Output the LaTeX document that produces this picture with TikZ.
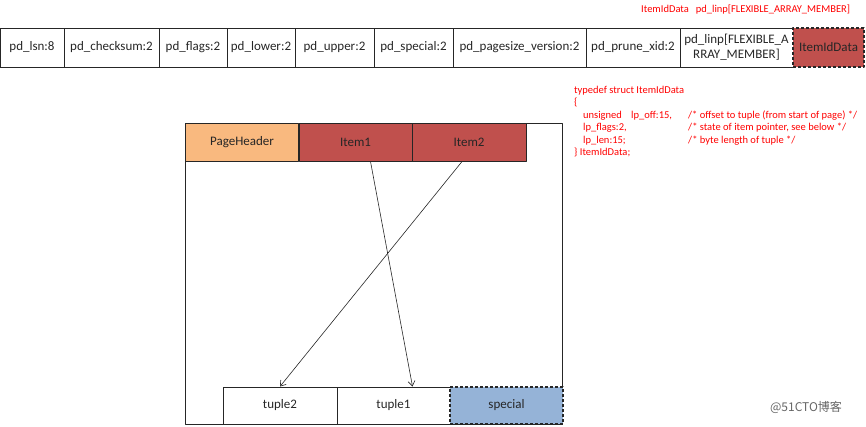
\documentclass[tikz,border=0pt]{standalone}
\usepackage{fontspec}
\setmainfont{Carlito}
\newfontfamily\cjk{Noto Sans CJK SC}
\usepackage{tikz}
\usetikzlibrary{arrows.meta}
\definecolor{itemred}{HTML}{C0504D}
\definecolor{hdrorange}{HTML}{F9B97F}
\definecolor{specblue}{HTML}{95B3D7}
\definecolor{boxline}{HTML}{262626}

\begin{document}
\begin{tikzpicture}[line join=round,>={Straight Barb[length=5pt,width=7pt]},x=1pt,y=-1pt,
    cell/.style={draw=boxline, line width=1pt, minimum height=39pt, inner sep=0pt, align=center, font=\fontsize{13}{15}\selectfont, text=boxline},
    item/.style={cell, fill=itemred},
    dcell/.style={cell, line width=1.2pt, dash pattern=on 3pt off 2pt},
    note/.style={text=red, inner sep=0pt, font=\fontsize{10.5}{12.5}\selectfont},
    ptr/.style={->, line width=0.6pt, boxline}]
    \useasboundingbox (0,0) rectangle (866,426);

    % page header fields
    \node[cell, minimum width=64] (lsn) at (32,47.5) {pd\_lsn:8};
    \node[cell, minimum width=95] (checksum) at (111.5,47.5) {pd\_checksum:2};
    \node[cell, minimum width=68] (flags) at (193,47.5) {pd\_flags:2};
    \node[cell, minimum width=68] (lower) at (261,47.5) {pd\_lower:2};
    \node[cell, minimum width=79] (upper) at (334.5,47.5) {pd\_upper:2};
    \node[cell, minimum width=79] (spec) at (413.5,47.5) {pd\_special:2};
    \node[cell, minimum width=133] (pagesize) at (519.5,47.5) {pd\_pagesize\_version:2};
    \node[cell, minimum width=94] (prune) at (633,47.5) {pd\_prune\_xid:2};
    \node[cell, minimum width=113] (linp) at (736.5,47.5) {pd\_linp[FLEXIBLE\_A\\RRAY\_MEMBER]};
    \node[item, dcell, minimum width=71] (itemid) at (828.5,47.5) {ItemIdData};

    \node[note, anchor=base west] (linplabel) at (641,12) {ItemIdData\hspace{7pt}pd\_linp[FLEXIBLE\_ARRAY\_MEMBER]};

    % ItemIdData struct
    \node[note, anchor=north west, align=left] (struct) at (574,86) {%
        typedef struct ItemIdData\\
        \{\\
        \hspace*{9pt}\makebox[48pt][l]{unsigned}\makebox[57pt][l]{lp\_off:15,}/* offset to tuple (from start of page) */\\
        \hspace*{9pt}\makebox[105pt][l]{lp\_flags:2,}/* state of item pointer, see below */\\
        \hspace*{9pt}\makebox[105pt][l]{lp\_len:15;}/* byte length of tuple */\\
        \} ItemIdData;};

    % page layout
    \node[draw=boxline, line width=1pt, minimum width=377, minimum height=301, inner sep=0pt] (page) at (373.5,273.5) {};
    \node[cell, fill=hdrorange, minimum width=113, minimum height=38] (header) at (242,142) {PageHeader};
    \node[item, minimum width=113, minimum height=38] (item1) at (355.5,142) {Item1};
    \node[item, minimum width=114, minimum height=38] (item2) at (469,142) {Item2};

    \node[cell, minimum width=114, minimum height=37] (tuple2) at (280,405.5) {tuple2};
    \node[cell, minimum width=113, minimum height=37] (tuple1) at (393.5,405.5) {tuple1};
    \node[dcell, fill=specblue, minimum width=113, minimum height=37] (special) at (506.5,405.5) {special};

    \draw[ptr] ([xshift=15]item1.south) -- ([xshift=19]tuple1.north);
    \draw[ptr] ([xshift=-7]item2.south) -- (tuple2.north);

    \node[text=black!60, inner sep=0pt, font=\cjk\fontsize{12}{14}\selectfont] (mark) at (806,407) {@51CTO博客};
\end{tikzpicture}
\end{document}
